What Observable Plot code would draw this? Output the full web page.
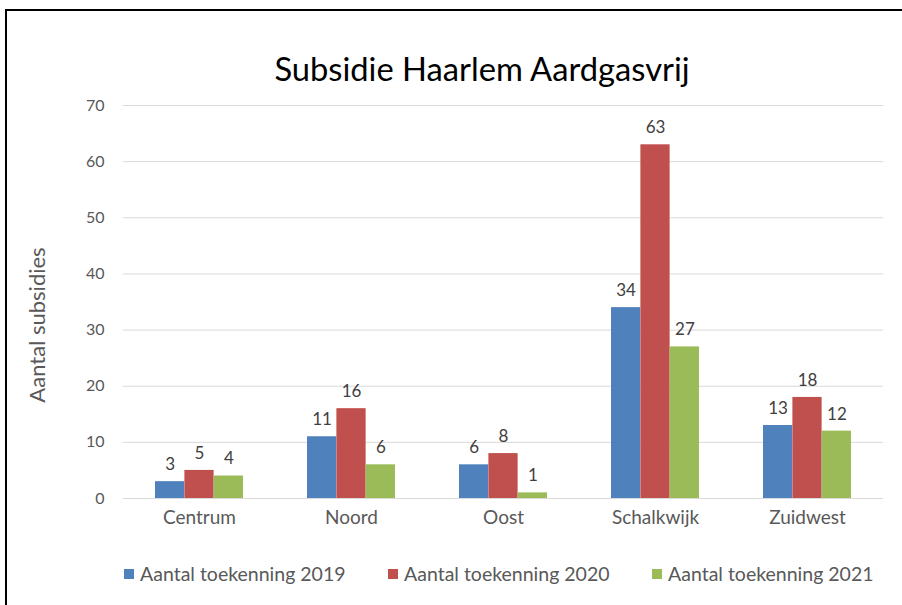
<!DOCTYPE html>
<html>
<head>
<meta charset="utf-8">
<script src="https://cdn.jsdelivr.net/npm/d3@7"></script>
<script src="https://cdn.jsdelivr.net/npm/@observablehq/plot@0.6"></script>
<style>
  body { margin: 0; background: #fff; font-family: Lato, "Open Sans", sans-serif; }
  #wrap { position: relative; width: 902px; height: 605px; overflow: hidden; background: #fff; }
  #frame { position: absolute; left: 5px; top: 9px; width: 920px; height: 620px; border-top: 2px solid #000; border-left: 2px solid #000; pointer-events: none; }
  #title { position: absolute; top: 49px; left: 0; width: 964px; text-align: center; font-size: 32.7px; color: #000; line-height: 40px; }
  #chart { position: absolute; top: 95px; left: 0; }
  #chart svg { color: #595959; }
  #legend { position: absolute; top: 562px; left: 124px; display: flex; font-size: 19.5px; color: #595959; line-height: 24px; }
  .item { width: 264px; display: flex; align-items: center; }
  .sw { width: 10px; height: 10px; margin-right: 6px; }
</style>
</head>
<body>
<div id="wrap">
  <div id="title">Subsidie Haarlem Aardgasvrij</div>
  <div id="chart"></div>
  <div id="legend"></div>
  <div id="frame"></div>
</div>
<script>
const categories = ["Centrum", "Noord", "Oost", "Schalkwijk", "Zuidwest"];
const series = ["Aantal toekenning 2019", "Aantal toekenning 2020", "Aantal toekenning 2021"];
const values2019 = [3, 11, 6, 34, 13];
const values2020 = [5, 16, 8, 63, 18];
const values2021 = [4, 6, 1, 27, 12];
const yTicks = [0, 10, 20, 30, 40, 50, 60, 70];
const yLabel = "Aantal subsidies";
const colors = ["#4F81BD", "#C0504D", "#9BBB59"];

const seriesValues = [values2019, values2020, values2021];

const W = 902, H = 445, ml = 123, mr = 19, mt = 10, mb = 42;
const padInner = 0.42, padOuter = 0.21;
const step = (W - ml - mr) / (categories.length - padInner + 2 * padOuter);
const bw = step * (1 - padInner);
const sub = bw / series.length;

const marks = [Plot.ruleY(yTicks, {stroke: "#D9D9D9", strokeWidth: 1})];
seriesValues.forEach((vals, i) => {
  const data = categories.map((c, j) => ({cat: c, v: vals[j], s: series[i]}));
  marks.push(Plot.barY(data, {
    x: "cat", y: "v", fill: colors[i],
    insetLeft: i * sub, insetRight: (series.length - 1 - i) * sub
  }));
  marks.push(Plot.text(data, {
    x: "cat", y: "v", text: d => String(d.v),
    dx: (i - (series.length - 1) / 2) * sub, dy: -17,
    fill: "#404040", fontSize: 17
  }));
});
marks.push(Plot.axisY({ticks: yTicks, tickSize: 0, tickPadding: 19, fontSize: 16, label: null}));
marks.push(Plot.axisX({tickSize: 0, tickPadding: 12, fontSize: 19, label: null}));
marks.push(Plot.text([yLabel], {
  frameAnchor: "left", text: d => d, rotate: -90, dx: -86, dy: 23,
  textAnchor: "middle", lineAnchor: "middle",
  fontSize: 22, fill: "#595959"
}));

const chart = Plot.plot({
  width: W, height: H,
  marginLeft: ml, marginRight: mr, marginTop: mt, marginBottom: mb,
  style: {fontFamily: "Lato, 'Open Sans', sans-serif", background: "transparent"},
  x: {domain: categories, paddingInner: padInner, paddingOuter: padOuter, axis: null},
  y: {domain: [0, 70], axis: null},
  marks
});
document.getElementById("chart").appendChild(chart);

const legend = document.getElementById("legend");
series.forEach((s, i) => {
  const item = document.createElement("div");
  item.className = "item";
  const sw = document.createElement("span");
  sw.className = "sw";
  sw.style.background = colors[i];
  const t = document.createElement("span");
  t.textContent = s;
  item.appendChild(sw);
  item.appendChild(t);
  legend.appendChild(item);
});
</script>
</body>
</html>
